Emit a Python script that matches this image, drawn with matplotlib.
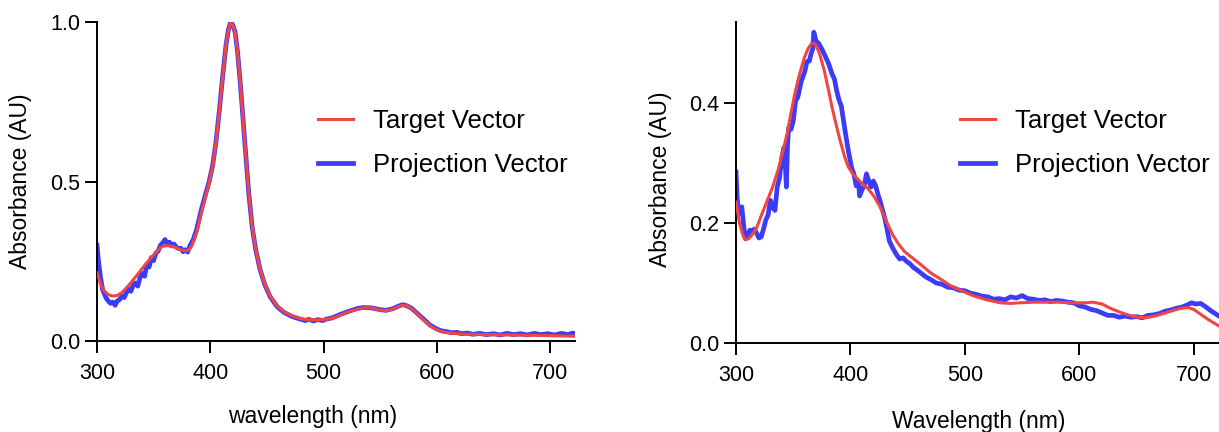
import matplotlib
matplotlib.use("Agg")
import matplotlib.pyplot as plt

plt.rcParams['font.family'] = ['Liberation Sans', 'DejaVu Sans']

# ---- left panel data ----
wl_target_1 = [300, 303, 306, 310, 314, 318, 322, 326, 330, 335, 340, 345, 350, 355, 358, 362,
               366, 370, 374, 378, 381, 384, 388, 392, 396, 399, 402, 405, 408, 411, 414, 416,
               418, 420, 422, 424, 426, 428, 431, 434, 437, 440, 444, 448, 453, 459, 465, 472,
               480, 487, 495, 503, 510, 516, 523, 530, 535, 542, 549, 555, 561, 566, 570, 574,
               578, 583, 588, 594, 600, 606, 614, 622, 640, 660, 680, 700, 724]
ab_target_1 = [0.214, 0.18, 0.158, 0.145, 0.141, 0.143, 0.152, 0.167, 0.183, 0.205, 0.228, 0.25,
               0.27, 0.289, 0.297, 0.299, 0.297, 0.292, 0.286, 0.283, 0.285, 0.300, 0.34, 0.40,
               0.456, 0.496, 0.545, 0.62, 0.72, 0.83, 0.93, 0.975, 0.998, 0.99, 0.965, 0.91, 0.83,
               0.74, 0.60, 0.465, 0.36, 0.29, 0.225, 0.18, 0.14, 0.11, 0.092, 0.079, 0.07, 0.067,
               0.066, 0.068, 0.074, 0.083, 0.093, 0.1, 0.104, 0.104, 0.098, 0.095, 0.1, 0.108,
               0.112, 0.11, 0.101, 0.085, 0.068, 0.048, 0.035, 0.028, 0.024, 0.022, 0.02, 0.019,
               0.018, 0.017, 0.015]

wl_proj_1 = [300, 301, 303, 305, 308, 310, 312, 314, 316, 318, 320, 322, 324, 326, 328, 330, 332,
             334, 336, 338, 340, 342, 344, 346, 348, 350, 352, 354, 356, 358, 360, 362, 364, 366,
             368, 370, 372, 374, 376, 378, 380, 382, 385, 388, 392, 396, 399, 402, 405, 408, 411,
             414, 416, 418, 420, 422, 424, 426, 428, 431, 434, 437, 440, 444, 448, 453, 459, 465,
             472, 480, 484, 487, 491, 495, 499, 503, 507, 510, 516, 523, 530, 535, 542, 549, 555,
             561, 566, 570, 574, 578, 583, 588, 594, 600, 604, 608, 613, 618, 622, 627, 632, 638,
             644, 650, 656, 662, 668, 674, 680, 686, 692, 698, 704, 710, 716, 720, 724]
ab_proj_1 = [0.30, 0.26, 0.20, 0.16, 0.135, 0.125, 0.118, 0.122, 0.112, 0.126, 0.13, 0.142, 0.136,
             0.152, 0.162, 0.156, 0.176, 0.182, 0.172, 0.2, 0.212, 0.203, 0.24, 0.232, 0.262,
             0.252, 0.276, 0.282, 0.3, 0.308, 0.318, 0.305, 0.31, 0.298, 0.304, 0.294, 0.29,
             0.291, 0.28, 0.286, 0.279, 0.298, 0.318, 0.35, 0.41, 0.462, 0.5, 0.548, 0.622,
             0.722, 0.832, 0.93, 0.976, 1.0, 0.99, 0.967, 0.91, 0.83, 0.74, 0.6, 0.463, 0.358,
             0.289, 0.224, 0.178, 0.138, 0.108, 0.09, 0.077, 0.068, 0.064, 0.068, 0.063, 0.067,
             0.064, 0.069, 0.072, 0.076, 0.085, 0.094, 0.102, 0.105, 0.104, 0.099, 0.096, 0.101,
             0.109, 0.114, 0.11, 0.102, 0.086, 0.07, 0.05, 0.038, 0.032, 0.03, 0.026, 0.027,
             0.023, 0.025, 0.021, 0.024, 0.02, 0.023, 0.019, 0.024, 0.02, 0.023, 0.019, 0.024,
             0.02, 0.023, 0.019, 0.024, 0.02, 0.025, 0.021]

# ---- right panel data ----
wl_target_2 = [300, 303, 306, 308, 311, 314, 318, 322, 327, 332, 337, 341, 345, 348, 351, 354,
               357, 360, 363, 366, 368, 370, 373, 377, 381, 384, 388, 391, 395, 398, 402, 405,
               410, 415, 420, 425, 429, 432, 437, 442, 447, 452, 460, 470, 480, 487, 495, 507,
               519, 531, 540, 548, 560, 572, 582, 595, 605, 612, 620, 627, 636, 644, 651, 658,
               666, 675, 683, 689, 695, 700, 706, 712, 718, 724]
ab_target_2 = [0.235, 0.2, 0.18, 0.172, 0.174, 0.18, 0.192, 0.212, 0.236, 0.26, 0.29, 0.32, 0.352,
               0.383, 0.412, 0.437, 0.458, 0.477, 0.491, 0.499, 0.5, 0.496, 0.482, 0.455, 0.42,
               0.392, 0.36, 0.337, 0.31, 0.294, 0.282, 0.276, 0.266, 0.258, 0.246, 0.23, 0.214,
               0.2, 0.18, 0.165, 0.153, 0.145, 0.133, 0.117, 0.105, 0.096, 0.089, 0.079, 0.072,
               0.067, 0.066, 0.067, 0.068, 0.068, 0.068, 0.067, 0.067, 0.068, 0.065, 0.058,
               0.051, 0.046, 0.043, 0.042, 0.045, 0.05, 0.055, 0.058, 0.059, 0.056, 0.048, 0.04,
               0.033, 0.026]

wl_proj_2 = [300, 301, 302, 303, 305, 307, 308, 310, 312, 314, 316, 318, 320, 322, 324, 326, 328,
             330, 332, 334, 336, 338, 340, 342, 343, 344, 345, 346, 348, 350, 352, 354, 357, 360,
             362, 364, 366, 367, 368, 370, 372, 375, 378, 381, 384, 386, 388, 390, 392, 394, 396,
             398, 401, 403, 405, 407, 408, 410, 412, 414, 416, 418, 420, 422, 424, 426, 428, 430,
             432, 434, 437, 440, 443, 446, 449, 452, 455, 458, 462, 466, 470, 475, 480, 485, 490,
             495, 500, 505, 510, 515, 520, 525, 530, 535, 540, 545, 550, 555, 560, 565, 570, 575,
             580, 585, 590, 595, 600, 605, 610, 615, 620, 625, 630, 635, 640, 645, 650, 655, 660,
             665, 670, 675, 680, 685, 690, 695, 698, 702, 706, 710, 714, 718, 722, 724]
ab_proj_2 = [0.285, 0.243, 0.22, 0.216, 0.227, 0.19, 0.175, 0.178, 0.188, 0.186, 0.19, 0.183,
             0.175, 0.177, 0.19, 0.205, 0.213, 0.238, 0.226, 0.221, 0.26, 0.275, 0.309, 0.326,
             0.3, 0.26, 0.33, 0.359, 0.356, 0.37, 0.403, 0.41, 0.436, 0.452, 0.469, 0.47, 0.485,
             0.49, 0.518, 0.503, 0.5, 0.49, 0.478, 0.465, 0.448, 0.44, 0.42, 0.405, 0.395, 0.37,
             0.345, 0.322, 0.292, 0.282, 0.262, 0.268, 0.245, 0.255, 0.262, 0.282, 0.27, 0.26,
             0.27, 0.262, 0.248, 0.236, 0.222, 0.208, 0.19, 0.17, 0.158, 0.148, 0.14, 0.142,
             0.136, 0.132, 0.126, 0.122, 0.116, 0.11, 0.106, 0.1, 0.098, 0.093, 0.092, 0.088,
             0.087, 0.083, 0.081, 0.078, 0.077, 0.073, 0.074, 0.072, 0.077, 0.075, 0.079, 0.074,
             0.073, 0.071, 0.072, 0.069, 0.071, 0.07, 0.068, 0.067, 0.062, 0.06, 0.056, 0.054,
             0.05, 0.046, 0.046, 0.043, 0.045, 0.043, 0.044, 0.042, 0.046, 0.047, 0.049, 0.053,
             0.055, 0.058, 0.06, 0.064, 0.067, 0.065, 0.066, 0.061, 0.055, 0.05, 0.045, 0.043]

red = '#F04545'
blue = '#3C3CF8'

fig = plt.figure(figsize=(12.19, 4.32), dpi=100)
ax1 = fig.add_axes([0.0796, 0.2106, 0.392, 0.7385])
ax2 = fig.add_axes([0.6038, 0.206, 0.398, 0.743])

panels = [
    (ax1, wl_target_1, ab_target_1, wl_proj_1, ab_proj_1, 'wavelength (nm)'),
    (ax2, wl_target_2, ab_target_2, wl_proj_2, ab_proj_2, 'Wavelength (nm)'),
]

for ax, wt, at, wp, ap, xl in panels:
    ax.plot(wp, ap, color=blue, lw=3.4, label='Projection Vector', zorder=2)
    ax.plot(wt, at, color=red, lw=2.2, label='Target Vector', zorder=3)
    ax.spines['top'].set_visible(False)
    ax.spines['right'].set_visible(False)
    for s in ('left', 'bottom'):
        ax.spines[s].set_linewidth(1.4)
    ax.tick_params(direction='out', length=8.5, width=1.4, labelsize=15.5)
    ax.tick_params(axis='x', pad=7)
    ax.tick_params(axis='y', pad=3.5)
    ax.set_xticks([300, 400, 500, 600, 700])
    ax.set_xlabel(xl, fontsize=16.5)
    ax.set_ylabel('Absorbance (AU)', fontsize=16.5)
    handles, labels = ax.get_legend_handles_labels()
    ax.legend(handles[::-1], labels[::-1], frameon=False, fontsize=18.5,
              handlelength=1.36, handletextpad=0.78, labelspacing=0.77,
              loc='upper left', bbox_to_anchor=(0.415, 0.80))

ax1.set_xlim(300, 722)
ax1.set_ylim(0, 1.0)
ax1.set_yticks([0.0, 0.5, 1.0])
ax1.xaxis.set_label_coords(0.452, -0.20)
ax1.yaxis.set_label_coords(-0.136, 0.5)

ax2.set_xlim(300, 724)
ax2.set_ylim(0, 0.535)
ax2.set_yticks([0.0, 0.2, 0.4])
ax2.xaxis.set_label_coords(0.5, -0.209)
ax2.yaxis.set_label_coords(-0.132, 0.51)
ax2.get_legend().set_bbox_to_anchor((0.415, 0.80))

fig.savefig('out.png', dpi=100)
